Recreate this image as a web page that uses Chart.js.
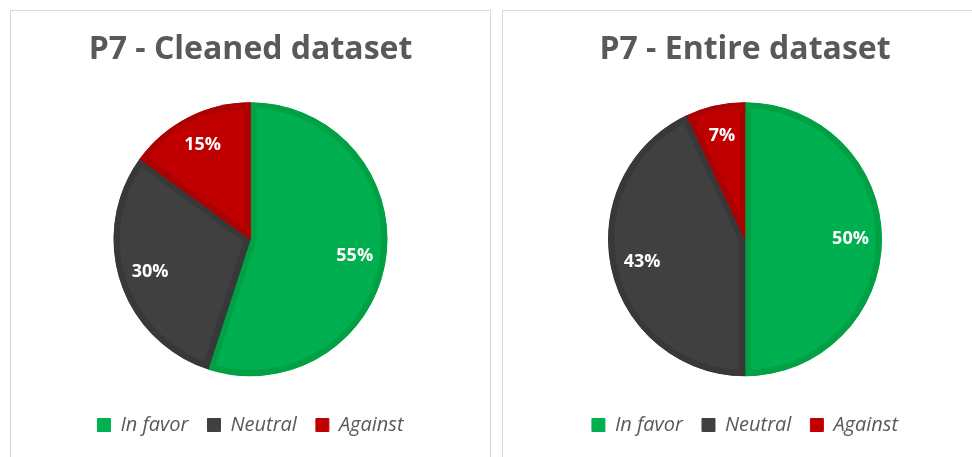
<!DOCTYPE html>
<html>
<head>
<meta charset="utf-8">
<script src="https://cdn.jsdelivr.net/npm/chart.js@4.4.1/dist/chart.umd.min.js"></script>
<style>
  body { margin: 0; background: #fff; width: 972px; height: 457px; overflow: hidden; position: relative; }
  .panel { position: absolute; top: 10px; height: 460px; border: 1px solid #d9d9d9; background: #fff; box-sizing: border-box; }
  .panel canvas { position: absolute; left: 0; top: 0; }
</style>
</head>
<body>
<div class="panel" style="left:10px; width:481px;"><canvas id="pieCleaned" width="479" height="434"></canvas></div>
<div class="panel" style="left:502px; width:486px;"><canvas id="pieEntire" width="484" height="434"></canvas></div>
<script>
// Data
const categories = ['In favor', 'Neutral', 'Against'];
const cleanedValues = [55, 30, 15];
const entireValues = [50, 43, 7];
const titles = ['P7 - Cleaned dataset', 'P7 - Entire dataset'];

const fills = ['#00b050', '#404040', '#c00000'];
const edges = ['#00a145', '#383838', '#ad0000'];
const fontFam = '"Open Sans", "DejaVu Sans", sans-serif';

// white percentage labels inside slices
const pctLabels = {
    id: 'pctLabels',
    afterDatasetsDraw(chart) {
        const ctx = chart.ctx;
        const ds = chart.data.datasets[0];
        const total = ds.data.reduce((a, b) => a + b, 0);
        chart.getDatasetMeta(0).data.forEach((arc, i) => {
            const mid = (arc.startAngle + arc.endAngle) / 2;
            const r = arc.outerRadius * 0.77;
            const x = arc.x + Math.cos(mid) * r;
            const y = arc.y + Math.sin(mid) * r;
            ctx.save();
            ctx.fillStyle = '#ffffff';
            ctx.font = 'bold 18px ' + fontFam;
            ctx.textAlign = 'center';
            ctx.textBaseline = 'middle';
            ctx.fillText(Math.round(ds.data[i] / total * 100) + '%', x, y);
            ctx.restore();
        });
    }
};

function makePie(id, values, title) {
    const ctx = document.getElementById(id).getContext('2d');
    return new Chart(ctx, {
        type: 'pie',
        data: {
            labels: categories,
            datasets: [{
                data: values,
                backgroundColor: fills,
                borderColor: edges,
                borderWidth: 6,
                borderAlign: 'inner',
                radius: 137
            }]
        },
        options: {
            responsive: false,
            animation: false,
            plugins: {
                title: {
                    display: true,
                    text: title,
                    color: '#595959',
                    font: { family: fontFam, size: 32, weight: 'bold' },
                    padding: { top: 20, bottom: 13 }
                },
                legend: {
                    position: 'bottom',
                    labels: {
                        color: '#595959',
                        font: { family: fontFam, size: 20, style: 'italic' },
                        boxWidth: 13,
                        boxHeight: 13,
                        padding: 19,
                        generateLabels: (chart) =>
                            Chart.overrides.pie.plugins.legend.labels.generateLabels(chart)
                                .map(l => ({ ...l, lineWidth: 1, strokeStyle: l.fillStyle }))
                    }
                },
                tooltip: { enabled: false }
            }
        },
        plugins: [pctLabels]
    });
}

makePie('pieCleaned', cleanedValues, titles[0]);
makePie('pieEntire', entireValues, titles[1]);
</script>
</body>
</html>
